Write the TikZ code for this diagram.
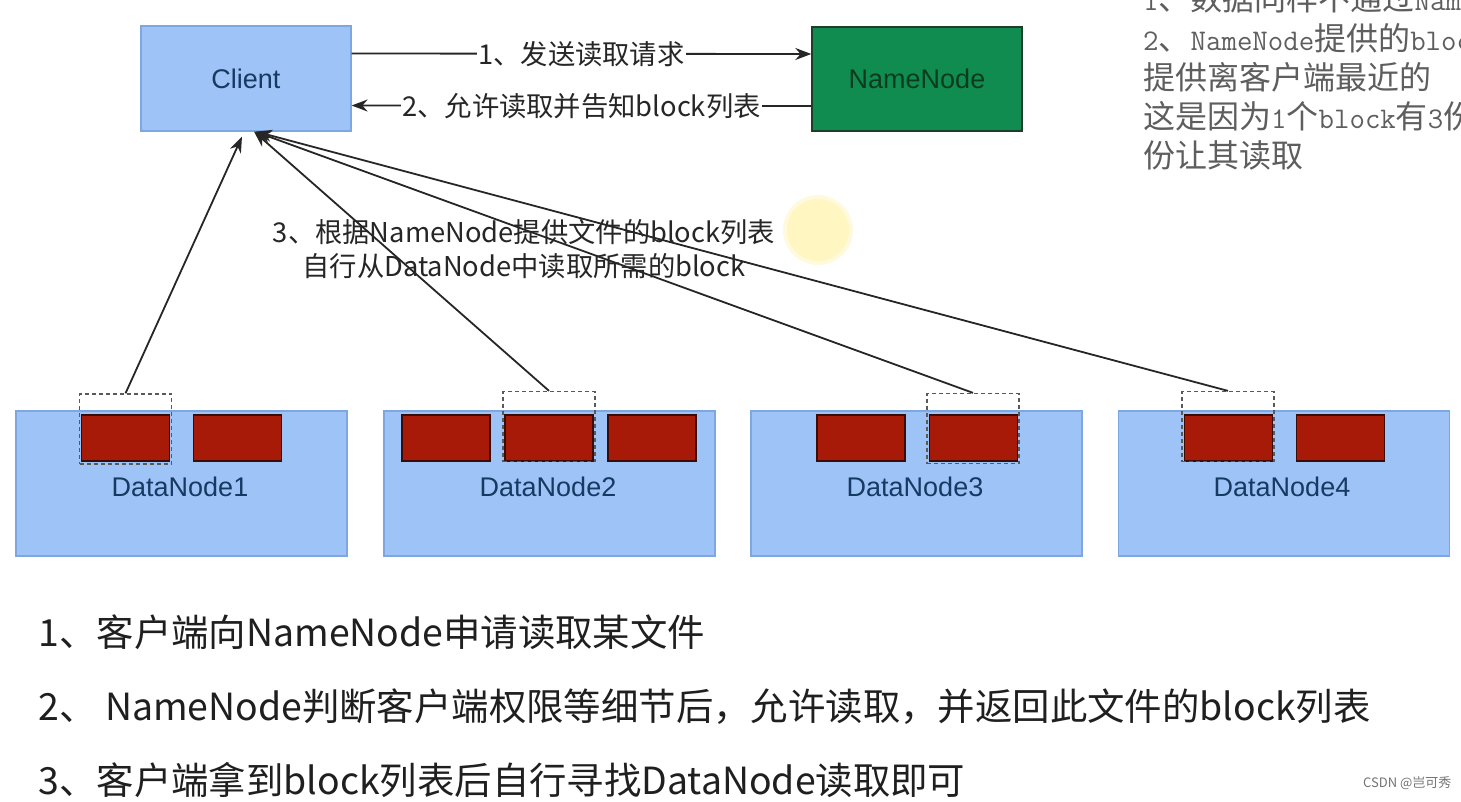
\documentclass[tikz,border=0pt]{standalone}
\usepackage{fontspec}
\setmainfont{Liberation Sans}
\newfontfamily\cjk{Noto Sans CJK SC}
\newfontfamily\notemono{Latin Modern Mono}
\usetikzlibrary{arrows.meta}
\definecolor{paleblue}{HTML}{9DC3F7}
\definecolor{edgeblue}{HTML}{7EA6E0}
\definecolor{nngreen}{HTML}{108C50}
\definecolor{nnedge}{HTML}{1E3D2A}
\definecolor{nntext}{HTML}{0B3B1E}
\definecolor{blockred}{HTML}{A81A08}
\definecolor{blockedge}{HTML}{3B0C06}
\definecolor{navy}{HTML}{173A63}
\definecolor{notegray}{HTML}{5E5E5E}
\definecolor{spot}{HTML}{FFF6C2}
\newcommand{\lat}[1]{{\notemono\fontsize{30}{39}\selectfont #1}}

\begin{document}
\begin{tikzpicture}[x=1pt,y=-1pt]
						\tikzstyle{box} = [rectangle,draw=edgeblue,fill=paleblue,line width=1.2pt,text=navy,font=\fontsize{27}{32}\selectfont]
						\tikzstyle{master} = [rectangle,draw=nnedge,fill=nngreen,line width=1.4pt,text=nntext,font=\fontsize{27}{32}\selectfont]
						\tikzstyle{blk} = [rectangle,draw=blockedge,fill=blockred,line width=1.4pt,minimum width=88pt,minimum height=46pt]
						\tikzstyle{sel} = [rectangle,draw=black!65,dash pattern=on 4pt off 3pt,line width=1.3pt,minimum width=92pt,minimum height=70pt]
						\tikzstyle{msg} = [font=\cjk\fontsize{27.3}{34}\selectfont,text=black!85]
						\tikzstyle{steptxt} = [font=\cjk\fontsize{37.4}{44}\selectfont,text=black!88,anchor=west]
						\tikzstyle{note} = [font=\cjk\fontsize{32}{39}\selectfont,text=notegray,anchor=west,inner sep=0pt]
						\tikzstyle{edge} = [draw=black!85,line width=1.8pt,-{Stealth[length=16pt,width=12pt]}]
						\useasboundingbox (0,0) rectangle (1461,801);
						\clip (0,0) rectangle (1461,801);
						\fill[spot!55] (818,230) circle (35);
						\fill[spot] (818,230) circle (31);
						\node[box,minimum width=210pt,minimum height=105pt] (client) at (246,78.5) {Client};
						\node[master,minimum width=210pt,minimum height=104pt] (namenode) at (917,79) {NameNode};
						\node[box,minimum width=331pt,minimum height=145pt] (dn1) at (181.5,483.5) {};
						\node[box,minimum width=331pt,minimum height=145pt] (dn2) at (549.5,483.5) {};
						\node[box,minimum width=331pt,minimum height=145pt] (dn3) at (916.5,483.5) {};
						\node[box,minimum width=331pt,minimum height=145pt] (dn4) at (1284,483.5) {};
						\node[box,draw=none,fill=none] (dn1txt) at (180,487) {DataNode1};
						\node[box,draw=none,fill=none] (dn2txt) at (548,487) {DataNode2};
						\node[box,draw=none,fill=none] (dn3txt) at (915,487) {DataNode3};
						\node[box,draw=none,fill=none] (dn4txt) at (1282,487) {DataNode4};
						\node[blk] (b11) at (125.5,438) {};
						\node[blk] (b12) at (237.5,438) {};
						\node[blk] (b21) at (446,438) {};
						\node[blk] (b22) at (549,438) {};
						\node[blk] (b23) at (652,438) {};
						\node[blk] (b31) at (861,438) {};
						\node[blk] (b32) at (973.5,438) {};
						\node[blk] (b41) at (1228.5,438) {};
						\node[blk] (b42) at (1340.5,438) {};
						\node[sel] (sel1) at (125.5,429) {};
						\node[sel] (sel2) at (549,426.5) {};
						\node[sel] (sel3) at (973,428.5) {};
						\node[sel] (sel4) at (1228,426.5) {};
						\node[msg,align=center] (readtxt) at (524,249) {3、根据NameNode提供文件的block列表\\自行从DataNode中读取所需的block};
						
						\draw[edge] ([yshift=25pt]client.east) -- ([yshift=25pt]namenode.west) node[msg,midway,fill=white,inner sep=1pt] (req) {1、发送读取请求};
						\draw[edge] ([yshift=-27pt]namenode.west) -- ([yshift=-27pt]client.east) node[msg,midway,fill=white,inner sep=1pt] (ack) {2、允许读取并告知block列表};
						\draw[edge] (sel1.north) -- ([xshift=-4pt,yshift=-5pt]client.south);
						\draw[edge] (sel2.north) -- ([xshift=8pt]client.south);
						\draw[edge] (sel3.north) -- ([xshift=9pt]client.south);
						\draw[edge] (sel4.north) -- ([xshift=10pt]client.south);
						
						\node[steptxt] (s1) at (35,632) {1、客户端向NameNode申请读取某文件};
						\node[steptxt] (s2) at (35,707) {2、 NameNode判断客户端权限等细节后，允许读取，并返回此文件的block列表};
						\node[steptxt] (s3) at (35,780) {3、客户端拿到block列表后自行寻找DataNode读取即可};
						
						\node[note] (note1) at (1143,-2) {\lat{1}、数据同样不通过\lat{NameNode}};
						\node[note] (note2) at (1143,38) {\lat{2}、\lat{NameNode}提供的\lat{block}};
						\node[note] (note3) at (1143,77) {提供离客户端最近的};
						\node[note] (note4) at (1143,116) {这是因为\lat{1}个\lat{block}有\lat{3}份};
						\node[note] (note5) at (1143,155) {份让其读取};
						\node[font=\cjk\fontsize{13}{16}\selectfont,text=black!55,anchor=east] (mark) at (1455,783) {CSDN @岂可秀};
\end{tikzpicture}
\end{document}
